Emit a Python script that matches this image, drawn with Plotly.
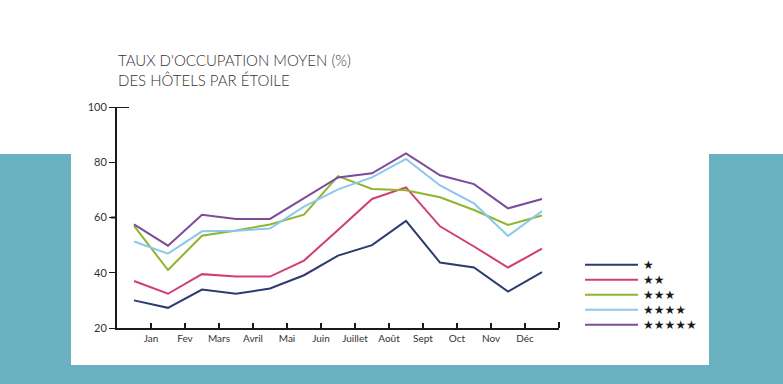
import plotly.graph_objects as go

months = ["Jan", "Fev", "Mars", "Avril", "Mai", "Juin", "Juillet", "Août", "Sept", "Oct", "Nov", "Déc"]
series_names = ["★", "★★", "★★★", "★★★★", "★★★★★"]
colors = ["#2d3b70", "#d23c78", "#8fb52e", "#8cc8ee", "#7b4b9c"]

one_star = [30.0, 27.3, 33.9, 32.4, 34.3, 39.1, 46.2, 50.0, 58.8, 43.7, 41.9, 33.2, 40.2]
two_star = [37.0, 32.4, 39.5, 38.6, 38.6, 44.4, 55.5, 66.7, 70.9, 56.8, 49.5, 41.9, 48.7]
three_star = [57.0, 41.0, 53.4, 55.3, 57.5, 61.0, 75.0, 70.3, 69.9, 67.3, 62.7, 57.3, 60.7]
four_star = [51.3, 46.9, 55.0, 55.2, 56.0, 63.9, 70.2, 74.5, 81.2, 71.6, 65.1, 53.3, 62.3]
five_star = [57.5, 49.8, 61.0, 59.5, 59.5, 66.9, 74.5, 76.0, 83.2, 75.3, 72.1, 63.3, 66.7]
all_series = [one_star, two_star, three_star, four_star, five_star]

y_ticks = [20, 40, 60, 80, 100]

W, H = 783, 384
L, R, T, B = 117, 224, 107, 56
PW, PH = W - L - R, H - T - B


def px(x):
    return (x - L) / PW


def py(y):
    return (H - B - y) / PH


fig = go.Figure()
point_idx = list(range(len(one_star)))
for name, vals, col in zip(series_names, all_series, colors):
    fig.add_trace(go.Scatter(x=point_idx, y=vals, mode="lines", name=name,
                             line=dict(color=col, width=2), showlegend=False))

shapes = [
    dict(type="rect", xref="paper", yref="paper", x0=px(-5), x1=px(W + 5), y0=py(154), y1=py(H + 5),
         fillcolor="#6ab2c2", line=dict(width=0), layer="below"),
    dict(type="rect", xref="paper", yref="paper", x0=px(71), x1=px(709), y0=py(365), y1=py(-5),
         fillcolor="white", line=dict(width=0), layer="below"),
    # inner tick at 100
    dict(type="line", xref="paper", yref="y", x0=0, x1=px(129), y0=100, y1=100,
         line=dict(color="#1a1a1a", width=2)),
    # heavier tick at 60
    dict(type="line", xref="paper", yref="y", x0=px(111), x1=0, y0=60, y1=60,
         line=dict(color="#1a1a1a", width=2)),
    # end tick on x axis
    dict(type="line", xref="paper", yref="paper", x0=1, x1=1, y0=0, y1=py(322),
         line=dict(color="#1a1a1a", width=2)),
]

title_font = dict(family="Lato", size=15, color="#333333", weight=300)
annotations = [
    dict(text="TAUX D'OCCUPATION MOYEN (%)", xref="paper", yref="paper", x=px(116), y=py(71),
         xanchor="left", yanchor="bottom", showarrow=False, font=title_font),
    dict(text="DES HÔTELS PAR ÉTOILE", xref="paper", yref="paper", x=px(116), y=py(91),
         xanchor="left", yanchor="bottom", showarrow=False, font=title_font),
]

for i, (name, col) in enumerate(zip(series_names, colors)):
    ly = 264.7 + 15 * i
    shapes.append(dict(type="line", xref="paper", yref="paper", x0=px(585), x1=px(638),
                       y0=py(ly), y1=py(ly), line=dict(color=col, width=2)))
    annotations.append(dict(text=name, xref="paper", yref="paper", x=px(641), y=py(ly),
                            xanchor="left", yanchor="middle", showarrow=False,
                            font=dict(family="DejaVu Sans", size=12, color="#1a1a1a")))

fig.update_layout(
    width=W, height=H,
    margin=dict(l=L, r=R, t=T, b=B, pad=0),
    paper_bgcolor="white", plot_bgcolor="rgba(0,0,0,0)",
    shapes=shapes, annotations=annotations,
    font=dict(family="Lato", color="#333333"),
)
fig.update_xaxes(range=[-0.5, len(one_star) - 0.5], tickvals=[i + 0.5 for i in range(len(months))],
                 ticktext=months, showgrid=False, zeroline=False, showline=True,
                 linecolor="#1a1a1a", linewidth=2, ticks="inside", ticklen=5, tickwidth=1.5,
                 tickcolor="#1a1a1a", tickfont=dict(size=10, color="#333333"))
fig.update_yaxes(range=[20, 100], tickvals=y_ticks, showgrid=False, zeroline=False, showline=True,
                 linecolor="#1a1a1a", linewidth=2, ticks="outside", ticklen=6, tickwidth=1,
                 tickcolor="#1a1a1a", tickfont=dict(size=11, color="#333333"))

fig.write_html("out.html", config={"displayModeBar": False},
               post_script="document.body.style.margin='0';document.body.style.overflow='hidden';")
